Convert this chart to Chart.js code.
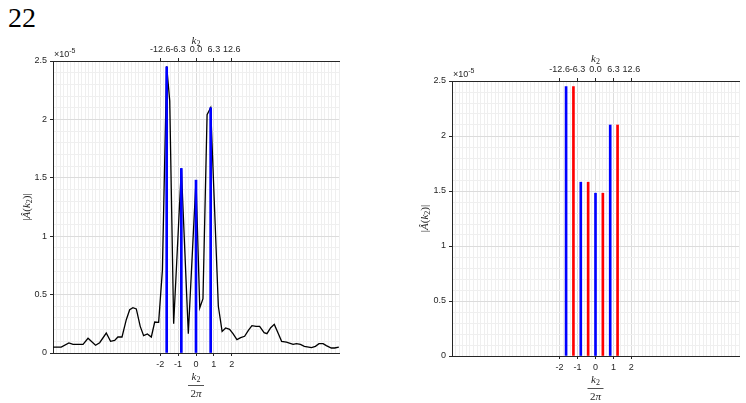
<!DOCTYPE html>
<html>
<head>
<meta charset="utf-8">
<script src="https://cdn.jsdelivr.net/npm/chart.js@4"></script>
<style>
body { margin: 0; background: #fff; width: 746px; height: 403px; position: relative; overflow: hidden; }
#title { position: absolute; left: 8px; top: 2px; font: 28px 'Liberation Serif', serif; color: #000; }
.box { position: absolute; top: 0; width: 373px; height: 403px; }
</style>
</head>
<body>
<div id="title">22</div>
<div class="box" style="left:0"><canvas id="leftChart" width="373" height="403"></canvas></div>
<div class="box" style="left:373px"><canvas id="rightChart" width="373" height="403"></canvas></div>
<script>
// k2 / 2pi positions and |A(k2)| values (x 1e-5)
const curveK = [-8.00, -7.54, -7.11, -6.88, -6.32, -6.04, -5.62, -5.39, -5.02, -4.78, -4.55, -4.37, -4.14,
    -3.90, -3.71, -3.53, -3.34, -3.12, -2.93, -2.72, -2.50, -2.31, -2.09, -1.88, -1.64, -1.47, -1.25, -0.82,
    -0.43, 0.00, 0.21, 0.39, 0.62, 0.82, 1.25, 1.46, 1.66, 1.88, 2.07, 2.29, 2.50, 2.72, 2.93, 3.13, 3.36,
    3.56, 3.81, 3.97, 4.18, 4.38, 4.59, 4.79, 5.06, 5.43, 5.62, 5.84, 6.06, 6.46, 6.68, 6.88, 7.11, 7.29,
    7.57, 7.76, 7.99];
const curveA = [0.051, 0.051, 0.086, 0.074, 0.074, 0.126, 0.066, 0.088, 0.171, 0.100, 0.108, 0.137, 0.137,
    0.285, 0.370, 0.388, 0.377, 0.228, 0.148, 0.163, 0.137, 0.265, 0.262, 0.708, 2.455, 2.160, 0.251, 1.580,
    0.166, 1.480, 0.385, 0.465, 2.040, 2.100, 0.400, 0.185, 0.214, 0.203, 0.166, 0.114, 0.131, 0.143, 0.194,
    0.234, 0.228, 0.228, 0.174, 0.166, 0.217, 0.245, 0.171, 0.100, 0.094, 0.074, 0.080, 0.074, 0.057, 0.046,
    0.057, 0.080, 0.080, 0.063, 0.043, 0.043, 0.051];

const peakK = [-1.64, -0.82, 0, 0.82];
const peakA = [2.45, 1.58, 1.48, 2.10];
const shiftK = [-1.23, -0.41, 0.41, 1.23];
const shiftA = [2.45, 1.58, 1.48, 2.10];

const bottomTicks = [-2, -1, 0, 1, 2];
const topTickLabels = ['-12.6', '-6.3', '0.0', '6.3', '12.6'];
const yTicks = [0, 0.5, 1, 1.5, 2, 2.5];

const W = 373, H = 403;
const textColor = '#262626';
const tickFont = { family: 'Liberation Sans', size: 9 };
const majorGrid = '#dcdcdc', minorGrid = '#efefef';

// grid positions (every 0.2 along x, every 0.1 along y)
const gridX = [], gridY = [];
for (let i = -40; i <= 40; i++) gridX.push(i / 5);
for (let i = 0; i <= 25; i++) gridY.push(i / 10);

const isTickX = v => bottomTicks.includes(v);
const isTickY = v => yTicks.some(t => Math.abs(t - v) < 1e-9);

function drawRuns(ctx, runs, cx, cy) {
    // runs: [text, font, dy]; drawn centred on cx
    let total = 0;
    runs.forEach(r => { ctx.font = r[1]; total += ctx.measureText(r[0]).width; });
    let x = cx - total / 2;
    runs.forEach(r => {
        ctx.font = r[1];
        ctx.fillText(r[0], x, cy + (r[2] || 0));
        x += ctx.measureText(r[0]).width;
    });
}

const serifIt = 'italic 11px "Liberation Serif"';
const serif = '11px "Liberation Serif"';
const serifSub = '8px "Liberation Serif"';

const extras = {
    id: 'extras',
    afterDraw(chart, args, opts) {
        const ctx = chart.ctx;
        const a = chart.chartArea;
        const zx = chart.scales.x.getPixelForValue(0);
        ctx.save();
        ctx.fillStyle = textColor;
        ctx.strokeStyle = textColor;
        ctx.textBaseline = 'middle';
        ctx.textAlign = 'left';

        // x10^-5 exponent label
        ctx.font = '9px "Liberation Sans"';
        ctx.fillText('\u00d710', a.left + 1, a.top - 6);
        const w = ctx.measureText('\u00d710').width;
        ctx.font = '7px "Liberation Sans"';
        ctx.fillText('-5', a.left + 1 + w, a.top - 10);

        // top axis title k2
        drawRuns(ctx, [['k', serifIt], ['2', serifSub, 3]], zx, a.top - opts.topTitle);

        // bottom axis title k2 / 2pi
        drawRuns(ctx, [['k', serifIt], ['2', serifSub, 3]], zx, a.bottom + 24);
        ctx.lineWidth = 0.8;
        ctx.beginPath();
        ctx.moveTo(zx - 8, a.bottom + 32.5);
        ctx.lineTo(zx + 8, a.bottom + 32.5);
        ctx.stroke();
        drawRuns(ctx, [['2', serif], ['\u03c0', serifIt]], zx, a.bottom + 41);

        // y axis title |A^(k2)|
        ctx.translate(opts.yTitleX, (a.top + a.bottom) / 2);
        ctx.rotate(-Math.PI / 2);
        drawRuns(ctx, [['|', serif], ['\u00c2', serifIt], ['(', serif], ['k', serifIt], ['2', serifSub, 3],
            [')', serif], ['|', serif]], 0, 0);
        ctx.restore();
    }
};

function buildChart(id, datasets, box) {
    return new Chart(document.getElementById(id), {
        type: 'bar',
        data: { datasets: datasets },
        options: {
            responsive: false,
            animation: false,
            layout: { padding: { left: 0, right: W - box.right, top: 0, bottom: 0 } },
            plugins: {
                legend: { display: false },
                tooltip: { enabled: false },
                extras: { topTitle: box.topTitle, yTitleX: box.yTitleX }
            },
            scales: {
                x: {
                    type: 'linear', position: 'bottom', min: -8, max: 8, offset: false,
                    afterBuildTicks: s => { s.ticks = gridX.map(v => ({ value: v })); },
                    afterFit: s => { s.height = H - box.bottom; },
                    ticks: {
                        autoSkip: false, maxRotation: 0, padding: 3, color: textColor, font: tickFont,
                        callback: v => isTickX(v) ? String(v) : ''
                    },
                    grid: {
                        offset: false, tickLength: 3,
                        color: c => isTickX(c.tick.value) ? majorGrid : minorGrid,
                        tickColor: c => isTickX(c.tick.value) ? textColor : 'rgba(0,0,0,0)'
                    },
                    border: { color: textColor }
                },
                x2: {
                    type: 'linear', position: 'top', min: -8, max: 8, offset: false,
                    afterBuildTicks: s => { s.ticks = bottomTicks.map(v => ({ value: v })); },
                    afterFit: s => { s.height = box.top; },
                    ticks: {
                        autoSkip: false, maxRotation: 0, padding: 3, color: textColor, font: tickFont,
                        callback: (v, i) => topTickLabels[i]
                    },
                    grid: { offset: false, drawOnChartArea: false, tickLength: 3, tickColor: textColor },
                    border: { color: textColor }
                },
                y: {
                    type: 'linear', min: 0, max: 2.5,
                    afterBuildTicks: s => { s.ticks = gridY.map(v => ({ value: v })); },
                    afterFit: s => { s.width = box.left; },
                    ticks: {
                        autoSkip: false, padding: 3, color: textColor, font: tickFont,
                        callback: v => isTickY(v) ? String(Math.round(v * 10) / 10) : ''
                    },
                    grid: {
                        tickLength: 3,
                        color: c => isTickY(c.tick.value) ? majorGrid : minorGrid,
                        tickColor: c => isTickY(c.tick.value) ? textColor : 'rgba(0,0,0,0)'
                    },
                    border: { color: textColor }
                }
            }
        },
        plugins: [extras]
    });
}

function stems(ks, as, color) {
    return {
        type: 'bar',
        data: ks.map((k, i) => ({ x: k, y: as[i] })),
        backgroundColor: color,
        barThickness: 2,
        grouped: false,
        order: 0
    };
}

buildChart('leftChart', [
    stems(peakK, peakA, '#0000ff'),
    {
        type: 'line',
        data: curveK.map((k, i) => ({ x: k, y: curveA[i] })),
        borderColor: '#000000',
        borderWidth: 1.3,
        pointRadius: 0,
        tension: 0,
        order: 1
    }
], { left: 53, right: 339, top: 61, bottom: 353, topTitle: 20, yTitleX: 27 });

buildChart('rightChart', [
    stems(peakK, peakA, '#0000ff'),
    stems(shiftK, shiftA, '#ff0000')
], { left: 79, right: 366, top: 81, bottom: 356, topTitle: 22, yTitleX: 52 });
</script>
</body>
</html>
